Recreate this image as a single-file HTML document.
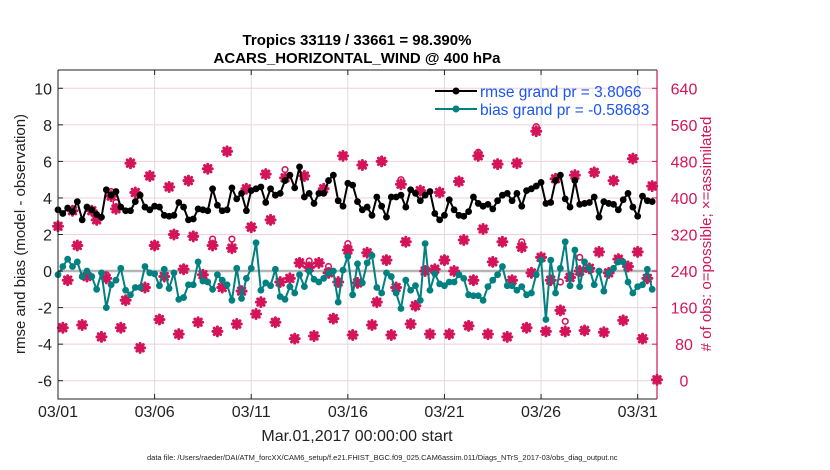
<!DOCTYPE html>
<html><head><meta charset="utf-8"><style>
html,body{margin:0;padding:0;background:#fff;}
svg{display:block;font-family:"Liberation Sans",sans-serif;}
</style></head><body>
<svg id="chart" width="830" height="470" viewBox="0 0 830 470" xmlns="http://www.w3.org/2000/svg">
<rect x="0" y="0" width="830" height="470" fill="#fff"/>
<text x="357" y="45" text-anchor="middle" font-size="15" font-weight="bold">Tropics 33119 / 33661 = 98.390%</text>
<text x="357" y="63" text-anchor="middle" font-size="15" font-weight="bold">ACARS_HORIZONTAL_WIND @ 400 hPa</text>
<g id="grid"></g>
<g id="marks"></g>
<g id="axes"></g>
<text x="357" y="441" text-anchor="middle" font-size="16" fill="#222">Mar.01,2017 00:00:00 start</text>
<text transform="translate(25,234) rotate(-90)" text-anchor="middle" font-size="15" fill="#222">rmse and bias (model - observation)</text>
<text transform="translate(711,234) rotate(-90)" text-anchor="middle" font-size="15" fill="#d4145a">&#35; of obs: o=possible; ×=assimilated</text>
<text x="147" y="460" font-size="7.5" fill="#222">data file: /Users/raeder/DAI/ATM_forcXX/CAM6_setup/f.e21.FHIST_BGC.f09_025.CAM6assim.011/Diags_NTrS_2017-03/obs_diag_output.nc</text>
<g id="legend">
<line x1="435" y1="91" x2="477" y2="91" stroke="#000" stroke-width="2"/>
<circle cx="456" cy="91" r="3.5" fill="#000"/>
<text x="480" y="97" font-size="15.5" fill="#1a55f0">rmse grand pr = 3.8066</text>
<line x1="435" y1="109" x2="477" y2="109" stroke="#008080" stroke-width="2"/>
<circle cx="456" cy="109" r="3.5" fill="#008080"/>
<text x="480" y="115" font-size="15.5" fill="#1a55f0">bias grand pr = -0.58683</text>
</g>
</svg>
<script>
const xTickLabels = ["03/01","03/06","03/11","03/16","03/21","03/26","03/31"];
const xTickDays = [0,5,10,15,20,25,30];
const leftTicks = [10,8,6,4,2,0,-2,-4,-6];
const rightTicks = [640,560,480,400,320,240,160,80,0];
const rmse = [3.35,3.15,3.45,3.25,3.8,2.8,3.5,3.35,3.1,2.95,4.45,4.15,4.35,3.5,3.3,3.3,3.8,4.15,3.5,3.35,3.55,3.5,3.05,3.0,3.05,3.75,3.5,2.8,2.85,3.4,3.35,3.3,4.5,3.6,3.3,3.35,4.55,3.95,4.25,3.3,4.4,4.5,
4.6,3.75,4.5,4.15,4.25,4.95,5.25,4.55,5.7,4.05,4.25,3.7,4.25,4.25,4.95,5.25,3.85,3.55,4.8,4.7,3.8,3.35,3.5,3.05,4.05,3.55,2.95,4.05,4.05,4.15,3.5,4.45,4.25,3.85,4.15,4.35,3.15,2.8,3.05,3.9,3.35,3.05,
3.0,3.25,4.05,3.7,3.55,3.65,3.4,3.85,4.15,4.25,3.85,4.25,3.55,4.4,4.5,4.65,4.85,3.7,3.75,4.95,5.25,3.95,3.5,4.95,3.65,3.7,3.75,4.05,2.95,3.8,3.7,3.65,3.35,3.9,4.25,3.5,3.0,4.1,3.85,3.8];
const bias = [-0.2,0.25,0.65,0.25,0.5,-0.3,0,-0.3,-1.0,-0.1,-2.0,-0.75,-0.5,0.15,-1.05,-1.3,-0.9,-0.9,0.25,-0.1,-0.15,-0.8,0.1,-0.95,-0.1,-1.55,-1.45,-0.75,-0.75,0.5,-0.55,-0.6,-1.0,-0.2,-0.5,-0.75,-1.6,0.15,-1.5,-0.4,0.15,1.55,
-1.05,-0.65,-0.8,0.1,-1.4,-1.55,-0.85,-1.2,-0.2,-0.85,0,-0.45,-0.6,-0.4,-0.1,0,-1.7,0.05,0.8,-1.3,0.4,-0.65,0.45,0.85,-0.9,-1.2,-0.1,-0.3,-1.2,-2.05,-0.5,-1.05,-0.8,-1.6,1.5,-1.05,-0.15,-0.7,-0.8,-0.6,-0.6,-0.2,
-0.4,-1.3,-1.35,-1.35,-1.6,-0.85,-0.5,-0.2,0.25,-0.8,-0.8,-1.05,-0.85,-1.3,-1.2,-0.2,0.6,-2.65,0.6,-1.2,0.15,1.6,-0.8,1.15,-0.85,0.5,0.15,-0.75,0,-1.1,-0.1,0.15,0.5,0.5,-0.6,-1.2,-0.85,-0.75,0.1,-1.0];
const obsAssim = [338,116,220,372,296,122,228,372,352,96,224,404,376,116,176,476,412,72,204,448,296,134,228,424,320,102,244,438,316,128,232,464,296,108,204,502,290,124,196,420,336,146,
172,452,352,128,216,444,224,92,258,448,248,98,258,420,236,136,216,492,286,100,214,472,280,122,172,480,264,100,204,430,304,124,164,416,240,102,244,412,264,102,240,436,
308,120,220,492,332,102,260,474,304,96,220,476,292,116,236,546,270,108,220,442,154,108,226,450,240,110,246,456,282,106,236,438,266,132,250,486,282,92,224,426,2];
const obsPossible = [338,116,220,372,296,122,228,372,352,96,232,414,390,116,176,476,412,72,204,448,296,134,228,424,320,102,244,438,316,128,232,464,310,108,204,502,310,124,196,420,336,146,
172,452,352,128,216,462,224,92,258,448,262,98,258,420,250,136,216,492,300,100,214,472,280,122,172,480,264,100,204,440,304,124,164,416,240,102,244,412,264,102,240,436,
308,120,220,500,332,102,260,474,304,96,220,476,304,116,236,556,270,108,220,442,216,130,226,450,270,110,246,456,282,106,236,438,266,132,250,486,282,92,224,426,2];

const NS="http://www.w3.org/2000/svg";
const L=58,R=657,T=70,B=399;
const xs=d=>L+(d/31)*(R-L);
const yl=v=>T+(11-v)/18*(B-T);
const yr=v=>yl(-6+v/40);
const dayOf=i=>i*0.25;
function mk(tag,attrs,parent){const e=document.createElementNS(NS,tag);for(const k in attrs)e.setAttribute(k,attrs[k]);parent.appendChild(e);return e;}
const grid=document.getElementById('grid'),marks=document.getElementById('marks'),axes=document.getElementById('axes');

for(const v of leftTicks){
  const g=mk('line',{x1:L,x2:R,y1:yl(v),y2:yl(v),stroke:'#f2cfdc','stroke-width':1},grid);
  
  
  const t=mk('text',{x:L-6,y:yl(v)+6,'text-anchor':'end','font-size':16,fill:'#222'},axes);
  t.textContent=v;
  
  
}
for(const v of rightTicks){
  const t=mk('text',{x:684,y:yr(v)+6,'text-anchor':'middle','font-size':16,fill:'#d4145a'},axes);
  t.textContent=v;
  
  
  mk('line',{x1:R,x2:R-5,y1:yr(v),y2:yr(v),stroke:'#d4145a'},axes);
}
xTickDays.forEach((d,i)=>{
  const g=mk('line',{x1:xs(d),x2:xs(d),y1:T,y2:B,stroke:'#ddd','stroke-width':1},grid);
  
  
  const t=mk('text',{x:xs(d),y:417,'text-anchor':'middle','font-size':16,fill:'#222'},axes);
  t.textContent=xTickLabels[i];
  
  
  mk('line',{x1:xs(d),x2:xs(d),y1:B,y2:B-5,stroke:'#222'},axes);
  mk('line',{x1:xs(d),x2:xs(d),y1:T,y2:T+5,stroke:'#222'},axes);
});
const zl=mk('line',{x1:L,x2:R,y1:yl(0),y2:yl(0),stroke:'#b5b5b5','stroke-width':2.5},grid);



obsPossible.forEach((v,i)=>{
  const c=mk('circle',{cx:xs(dayOf(i)),cy:yr(v),r:2.8,fill:'none',stroke:'#d4145a','stroke-width':1.6},marks);
  
  
});
obsAssim.forEach((v,i)=>{
  const x=xs(dayOf(i)),y=yr(v),s=4.5,d=3.2;
  const p=mk('path',{d:`M${x-s} ${y}H${x+s}M${x} ${y-s}V${y+s}M${x-d} ${y-d}L${x+d} ${y+d}M${x-d} ${y+d}L${x+d} ${y-d}`,stroke:'#d4145a','stroke-width':3,'stroke-linecap':'round'},marks);
  
  
});
function series(arr,color,name){
  const pts=arr.map((v,i)=>xs(dayOf(i)).toFixed(1)+','+yl(v).toFixed(1)).join(' ');
  const pl=mk('polyline',{points:pts,fill:'none',stroke:color,'stroke-width':2,'stroke-linejoin':'round'},marks);
  
  
  arr.forEach((v,i)=>{
    const c=mk('circle',{cx:xs(dayOf(i)),cy:yl(v),r:3.4,fill:color},marks);
    
    
  });
}
series(bias,'#008080','bias');
series(rmse,'#000','rmse');

const fr=mk('path',{d:`M${L} ${T}H${R}M${L} ${T}V${B}H${R}`,fill:'none',stroke:'#222','stroke-width':1},axes);


const ra=mk('line',{x1:R,x2:R,y1:T,y2:B,stroke:'#d4145a','stroke-width':1.2},axes);


for(const v of leftTicks){mk('line',{x1:L,x2:L+5,y1:yl(v),y2:yl(v),stroke:'#222'},axes);}
</script>
</body></html>
